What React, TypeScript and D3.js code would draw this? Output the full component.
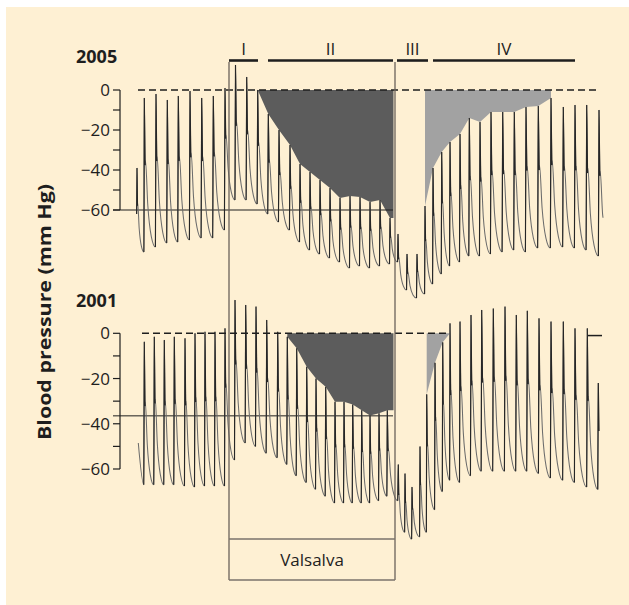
import React from "react";
import * as d3 from "d3";

// ---- shared time axis (seconds) ----
const VALSALVA_START = 10.9;
const VALSALVA_END = 27.5;

const PHASE_NAMES = ["I", "II", "III", "IV"];
const PHASE_START = [10.9, 14.8, 27.7, 31.3];
const PHASE_END = [13.8, 27.3, 30.8, 45.5];

const Y_TICKS = [0, -10, -20, -30, -40, -50, -60];
const Y_LABELED = [0, -20, -40, -60];

// ---- 2005 recording: beat peak time, systolic and preceding diastolic (mm Hg, relative) ----
const beatTime2005 = [
  1.7, 2.43, 3.6, 4.73, 5.83, 7.0, 8.17, 9.33, 10.5,
  11.55, 12.67, 13.77, 14.83, 15.9,
  17.0, 18.0, 19.0, 20.0, 21.0, 22.0, 23.0, 24.0, 25.0, 26.0, 27.0,
  27.8, 28.7, 29.7, 30.5, 31.3,
  32.17, 33.0, 34.0, 34.93, 36.0, 37.1, 38.27, 39.43, 40.6, 41.83, 43.1, 44.33, 45.5, 46.67, 47.9,
];
const systolic2005 = [
  -39, -4, -2, -5, -3, -0.5, -4, -3, 1,
  12.5, 6.5, 0, -12, -20,
  -27.5, -37, -41, -45, -49, -54, -53, -53.5, -56, -55, -64,
  -72, -82, -82, -58, -39,
  -31, -26, -22, -14, -16, -11, -11, -11, -8.5, -8, -4, -8.5, -7.5, -7.5, -10,
];
const diastolic2005 = [
  -62, -81, -78.5, -76.5, -76, -75, -74, -74, -70,
  -55, -55, -57, -62, -66,
  -70, -76, -80, -82, -84, -86, -89, -88, -89, -88, -87,
  -86, -100, -104, -102, -97,
  -92, -88, -86, -83, -83, -82, -81, -80, -81, -79, -79, -78.5, -79, -80, -83,
];
const traceEnd2005 = 48.3;
const lastTrough2005 = -83;
const darkFill2005 = [13.7, 27.1];
const lightFill2005 = [30.4, 43.2];
const refLine2005 = -60;
const zeroLine2005 = [1.8, 47.7];

// ---- 2001 recording ----
const beatTime2001 = [
  2.43, 3.43, 4.43, 5.43, 6.5, 7.5, 8.5, 9.5, 10.5,
  11.5, 12.57, 13.6, 14.67, 15.77,
  16.73, 17.67, 18.67, 19.6, 20.57, 21.5, 22.4, 23.27, 24.17, 25.0, 25.9, 26.73,
  27.83, 28.5, 29.2, 30.0,
  30.67, 31.5, 32.27, 33.0, 34.0, 35.1, 36.17, 37.33, 38.5, 39.63, 40.73, 41.9, 43.1, 44.33, 45.5, 46.73, 47.83,
];
const systolic2001 = [
  -3.7, -1.5, -3, -1.5, -2.2, 0, 0.7, 0.7, 2.2,
  14.7, 12.5, 11.8, 5.9, 0.7,
  -1.5, -6.6, -14.8, -20, -23.6, -30.3, -30.3, -31.5, -34, -36.3, -35.4, -34,
  -58, -62, -68, -50,
  -27, -13, -4, 4.4, 5.2, 8.1, 10.3, 11, 11.8, 8.1, 10, 6.6, 5.2, 5.2, 2.2, 2.2, -22,
];
const diastolic2001 = [
  -67, -67, -67, -67, -67.5, -68, -67.5, -67.5, -67.5,
  -56, -48.5, -50, -53, -55,
  -58, -63, -66, -69, -72, -75, -75, -75, -75, -75, -74, -72,
  -74, -88, -91, -90,
  -88, -78, -70, -65, -66, -63, -61, -61, -61, -61, -61, -62, -64, -65, -66, -68, -69,
];
const traceStart2001: [number, number] = [1.83, -48.5];
const traceEnd2001 = 47.83;
const lastTrough2001 = -69;
const darkFill2001 = [16.7, 26.8];
const lightFill2001 = [30.6, 33.1];
const refLine2001 = -36.5;
const zeroLine2001 = [2.2, 32.8];
const zeroMark2001 = [46.8, 48.2];

// pulse contour after each systolic peak: fraction of beat interval, fraction of pulse height
const SHAPE_T = [0.07, 0.1, 0.3, 0.6, 0.95];
const SHAPE_R = [0.55, 0.58, 0.28, 0.07, 0];
const UPSTROKE = 0.05;

type Pt = [number, number];

function buildTrace(
  times: number[],
  sys: number[],
  dia: number[],
  start: Pt | null,
  endT: number,
  endTrough: number
) {
  const pts: Pt[] = [];
  const spikes: Pt[][] = [];
  if (start) pts.push(start);
  const n = times.length;
  for (let i = 0; i < n; i++) {
    const t = times[i];
    const P = i < n - 1 ? times[i + 1] - t : t - times[i - 1];
    const prevP = i > 0 ? t - times[i - 1] : P;
    const trough: Pt = [t - UPSTROKE * prevP, dia[i]];
    if (i === 0) pts.push(trough);
    pts.push([t, sys[i]]);
    const target = i < n - 1 ? dia[i + 1] : endTrough;
    const notch: Pt = [t + SHAPE_T[0] * P, target + SHAPE_R[0] * (sys[i] - target)];
    spikes.push([trough, [t, sys[i]], notch]);
    let prev: Pt = [t, sys[i]];
    for (let k = 0; k < SHAPE_T.length; k++) {
      const tt = t + SHAPE_T[k] * P;
      const v = target + SHAPE_R[k] * (sys[i] - target);
      if (i === n - 1 && tt > endT) {
        if (endT > prev[0]) {
          const f = (endT - prev[0]) / (tt - prev[0]);
          pts.push([endT, prev[1] + f * (v - prev[1])]);
        }
        break;
      }
      pts.push([tt, v]);
      prev = [tt, v];
    }
  }
  return { pts, spikes };
}

const x = d3.scaleLinear().domain([0, 48]).range([120, 600]);
const yTop = d3.scaleLinear().domain([0, -60]).range([90, 210]);
const yBot = d3.scaleLinear().domain([0, -60]).range([333.3, 469]);

const FONT = "'Open Sans', 'Liberation Sans', sans-serif";
const INK = "#1e1e1e";

function Panel({
  title,
  titleY,
  y,
  times,
  sys,
  dia,
  start,
  endT,
  endTrough,
  darkRange,
  lightRange,
  refValue,
  zeroRange,
  zeroMark,
}: {
  title: string;
  titleY: number;
  y: d3.ScaleLinear<number, number>;
  times: number[];
  sys: number[];
  dia: number[];
  start: Pt | null;
  endT: number;
  endTrough: number;
  darkRange: number[];
  lightRange: number[];
  refValue: number;
  zeroRange: number[];
  zeroMark?: number[];
}) {
  const { pts, spikes } = buildTrace(times, sys, dia, start, endT, endTrough);
  const smooth = d3
    .line<Pt>()
    .x((d) => x(d[0]))
    .y((d) => y(d[1]))
    .curve(d3.curveMonotoneX);
  const straight = d3
    .line<Pt>()
    .x((d) => x(d[0]))
    .y((d) => y(d[1]));

  const peaksIn = (r: number[]) =>
    times
      .map((t, i) => [t, Math.min(sys[i], 0)] as Pt)
      .filter((p) => p[0] >= r[0] && p[0] <= r[1]);

  const darkPeaks = peaksIn(darkRange);
  const darkPoly: Pt[] = [
    [darkPeaks[0][0], 0],
    ...darkPeaks,
    [VALSALVA_END - 0.15, darkPeaks[darkPeaks.length - 1][1]],
    [VALSALVA_END - 0.15, 0],
  ];
  const lightPeaks = peaksIn(lightRange);
  const lightPoly: Pt[] = [
    [lightPeaks[0][0], 0],
    ...lightPeaks,
    [lightPeaks[lightPeaks.length - 1][0], 0],
  ];

  return (
    <g>
      <text x={76} y={titleY} fontFamily={FONT} fontWeight={700} fontSize={18} fill={INK}>
        {title}
      </text>
      {/* y axis */}
      <line x1={120} x2={120} y1={y(0)} y2={y(-60)} stroke={INK} strokeWidth={1.2} />
      {Y_TICKS.map((v) => (
        <line key={v} x1={113} x2={120} y1={y(v)} y2={y(v)} stroke={INK} strokeWidth={1.2} />
      ))}
      {Y_LABELED.map((v) => (
        <text
          key={v}
          x={110}
          y={y(v)}
          dy="0.36em"
          textAnchor="end"
          fontFamily={FONT}
          fontSize={17}
          fill={INK}
        >
          {v === 0 ? "0" : "\u2212" + Math.abs(v)}
        </text>
      ))}
      {/* fills */}
      <path d={straight(darkPoly) + "Z"} fill="#5c5c5c" />
      <path d={straight(lightPoly) + "Z"} fill="#a2a2a2" />
      {/* reference line */}
      <line
        x1={113}
        x2={x(VALSALVA_END - 0.2)}
        y1={y(refValue)}
        y2={y(refValue)}
        stroke={INK}
        strokeWidth={1}
      />
      {/* waveform */}
      <path d={smooth(pts) ?? ""} fill="none" stroke="#6c6c6c" strokeWidth={1.05} />
      {spikes.map((s, i) => (
        <path key={i} d={straight(s) ?? ""} fill="none" stroke="#262626" strokeWidth={1.15} />
      ))}
      {/* zero dashed line */}
      <line
        x1={x(zeroRange[0])}
        x2={x(zeroRange[1])}
        y1={y(0)}
        y2={y(0)}
        stroke={INK}
        strokeWidth={1.5}
        strokeDasharray="7 4"
      />
      {zeroMark && (
        <line
          x1={x(zeroMark[0])}
          x2={x(zeroMark[1])}
          y1={y(-1)}
          y2={y(-1)}
          stroke={INK}
          strokeWidth={1.5}
        />
      )}
    </g>
  );
}

export default function App() {
  return (
    <div style={{ position: "absolute", left: 0, top: 0 }}>
      <svg width={629} height={605} style={{ display: "block" }}>
        <rect x={0} y={0} width={629} height={605} fill="#ffffff" />
        <rect x={6} y={7} width={623} height={598} fill="#fef0d3" />

        {/* phase bars */}
        {PHASE_NAMES.map((p, i) => (
          <g key={p}>
            <line
              x1={x(PHASE_START[i])}
              x2={x(PHASE_END[i])}
              y1={60.5}
              y2={60.5}
              stroke={INK}
              strokeWidth={2.6}
            />
            <text
              x={(x(PHASE_START[i]) + x(PHASE_END[i])) / 2}
              y={55}
              textAnchor="middle"
              fontFamily={FONT}
              fontSize={17}
              fill={INK}
            >
              {p}
            </text>
          </g>
        ))}

        <Panel
          title="2005"
          titleY={63}
          y={yTop}
          times={beatTime2005}
          sys={systolic2005}
          dia={diastolic2005}
          start={null}
          endT={traceEnd2005}
          endTrough={lastTrough2005}
          darkRange={darkFill2005}
          lightRange={lightFill2005}
          refValue={refLine2005}
          zeroRange={zeroLine2005}
        />
        <Panel
          title="2001"
          titleY={307}
          y={yBot}
          times={beatTime2001}
          sys={systolic2001}
          dia={diastolic2001}
          start={traceStart2001}
          endT={traceEnd2001}
          endTrough={lastTrough2001}
          darkRange={darkFill2001}
          lightRange={lightFill2001}
          refValue={refLine2001}
          zeroRange={zeroLine2001}
          zeroMark={zeroMark2001}
        />

        {/* Valsalva markers */}
        <line x1={x(VALSALVA_START)} x2={x(VALSALVA_START)} y1={62} y2={580} stroke="#6a625a" strokeWidth={1.3} />
        <line x1={x(VALSALVA_END)} x2={x(VALSALVA_END)} y1={62} y2={580} stroke="#6a625a" strokeWidth={1.3} />
        <line x1={x(VALSALVA_START)} x2={x(VALSALVA_END)} y1={539} y2={539} stroke="#7a736b" strokeWidth={1.3} />
        <line x1={x(VALSALVA_START)} x2={x(VALSALVA_END)} y1={580} y2={580} stroke="#7a736b" strokeWidth={1.5} />
        <text
          x={(x(VALSALVA_START) + x(VALSALVA_END)) / 2}
          y={566}
          textAnchor="middle"
          fontFamily={FONT}
          fontSize={17}
          fill={INK}
        >
          Valsalva
        </text>

        {/* y axis title */}
        <text
          transform="translate(51,312) rotate(-90)"
          textAnchor="middle"
          fontFamily={FONT}
          fontWeight={700}
          fontSize={17}
          fill={INK}
          textLength={256}
          lengthAdjust="spacingAndGlyphs"
        >
          Blood pressure (mm Hg)
        </text>
      </svg>
    </div>
  );
}
